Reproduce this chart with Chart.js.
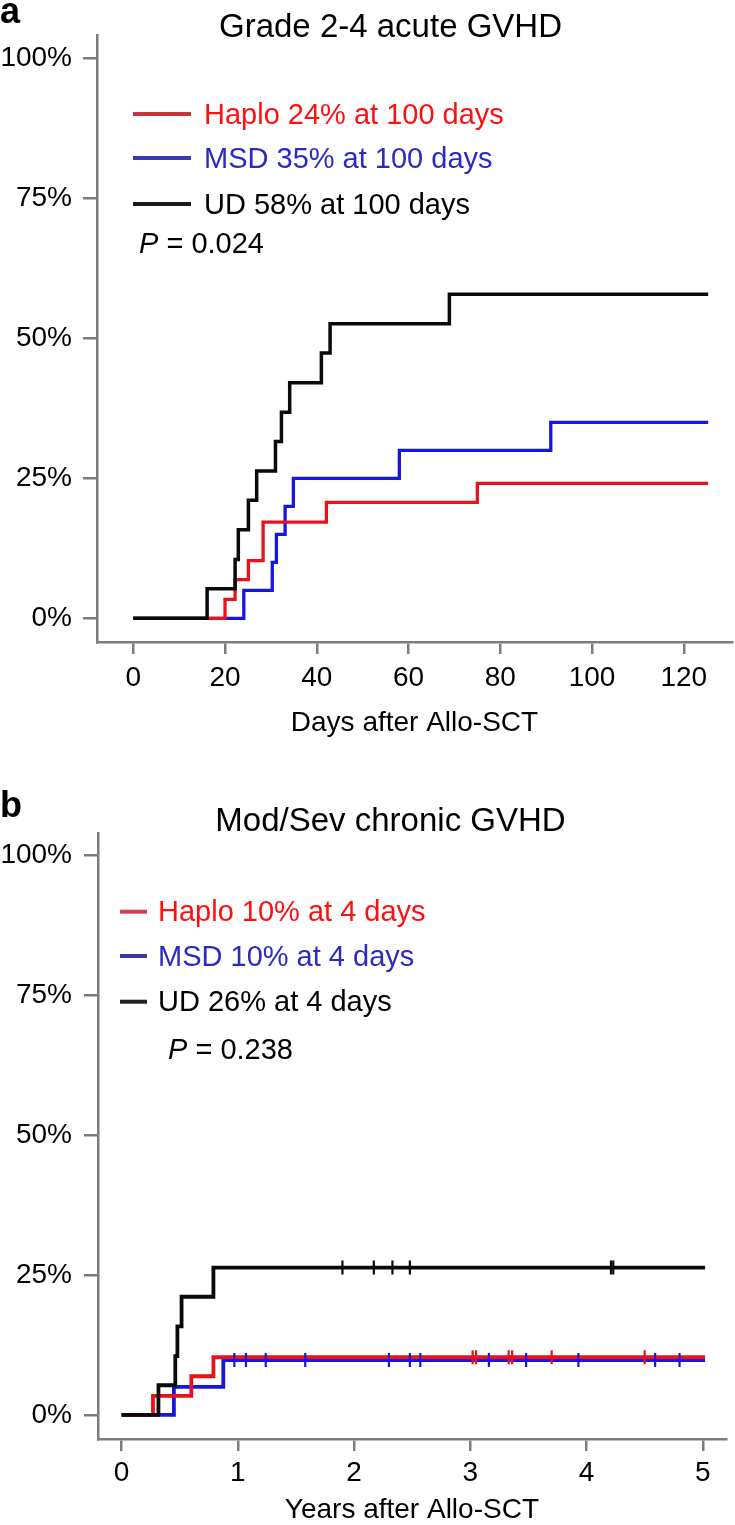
<!DOCTYPE html>
<html><head><meta charset="utf-8">
<script src="https://cdn.jsdelivr.net/npm/chart.js@4.4.1/dist/chart.umd.min.js"></script>
<style>
html,body{margin:0;padding:0;background:#fff;}
#wrapA{position:absolute;left:0;top:0;width:735px;height:760px;}
#wrapB{position:absolute;left:0;top:760px;width:735px;height:765px;}
</style></head><body>
<div id="wrapA"><canvas id="chartA" width="735" height="760"></canvas></div>
<div id="wrapB"><canvas id="chartB" width="735" height="765"></canvas></div>
<script>
// ---------- Panel a: Grade 2-4 acute GVHD (days) ----------
const aXTicks = [0, 20, 40, 60, 80, 100, 120];
const aYTicks = [0, 25, 50, 75, 100];
const aUDDays   = [0, 16.1, 22.2, 22.9, 25.1, 26.9, 31.0, 32.3, 34.1, 41.0, 42.9, 68.9, 125.3];
const aUDCI     = [0, 5.3, 10.5, 15.8, 21.1, 26.3, 31.6, 36.8, 42.1, 47.4, 52.6, 57.9, 57.9];
const aHaploDays = [0, 20.0, 22.2, 25.1, 28.3, 42.1, 75.0, 125.3];
const aHaploCI   = [0, 3.4, 6.9, 10.3, 17.2, 20.7, 24.1, 24.1];
const aMSDDays  = [0, 24.1, 30.3, 31.2, 33.1, 34.9, 58.0, 91.0, 125.3];
const aMSDCI    = [0, 5, 10, 15, 20, 25, 30, 35, 35];
const aLegendLabels = ['Haplo 24% at 100 days', 'MSD 35% at 100 days', 'UD 58% at 100 days'];
const aPValue = '0.024';
const aTitle = 'Grade 2-4 acute GVHD';
const aXTitle = 'Days after Allo-SCT';

// ---------- Panel b: Mod/Sev chronic GVHD (years) ----------
const bXTicks = [0, 1, 2, 3, 4, 5];
const bYTicks = [0, 25, 50, 75, 100];
const bUDYears   = [0, 0.317, 0.462, 0.48, 0.516, 0.79, 5.02];
const bUDCI      = [0, 5.3, 10.5, 15.8, 21.1, 26.3, 26.3];
const bHaploYears = [0, 0.27, 0.60, 0.79, 5.02];
const bHaploCI    = [0, 3.4, 6.9, 10.3, 10.3];
const bMSDYears  = [0, 0.45, 0.875, 5.02];
const bMSDCI     = [0, 5, 9.8, 9.8];
const bUDCensor    = [1.90, 2.17, 2.33, 2.48, 4.21, 4.23];
const bHaploCensor = [3.02, 3.05, 3.33, 3.36, 3.70, 4.50];
const bMSDCensor   = [0.97, 1.07, 1.24, 1.58, 2.30, 2.48, 2.57, 3.16, 3.48, 3.93, 4.59, 4.80];
const bLegendLabels = ['Haplo 10% at 4 days', 'MSD 10% at 4 days', 'UD 26% at 4 days'];
const bPValue = '0.238';
const bTitle = 'Mod/Sev chronic GVHD';
const bXTitle = 'Years after Allo-SCT';

// ---------- styles ----------
const FAM = '"Liberation Sans", Arial, Helvetica, sans-serif';
const AXIS_GRAY = '#7c7c7c';
const C_RED = '#e8121c', C_BLUE = '#1616e0', C_BLACK = '#0a0a0a';

function stepSeries(label, xs, ys, color, w) {
  return {
    label, data: xs.map((x, i) => ({x, y: ys[i]})),
    borderColor: color, backgroundColor: color, borderWidth: w,
    stepped: true, pointRadius: 0, fill: false, tension: 0
  };
}
function censorSeries(label, xs, ys, color) {
  const yv = ys[ys.length - 1];
  return {
    label, data: xs.map(x => ({x, y: yv})),
    showLine: false, pointStyle: 'line', pointRotation: 90, pointRadius: 7,
    pointBorderColor: color, pointBorderWidth: 2.2, borderColor: color, backgroundColor: color
  };
}

const decor = {
  id: 'decor',
  afterDraw(chart, args, o) {
    const ctx = chart.ctx;
    ctx.save();
    ctx.textBaseline = 'alphabetic';
    ctx.fillStyle = '#000';
    ctx.textAlign = 'left';
    ctx.font = 'bold 36px ' + FAM;
    ctx.fillText(o.letter, o.letterX, o.letterY);
    ctx.textAlign = 'center';
    ctx.font = '33px ' + FAM;
    ctx.fillText(o.title, o.titleX, o.titleY);
    ctx.textAlign = 'left';
    o.labels.forEach((lab, i) => {
      const y = o.legendY[i];
      ctx.strokeStyle = o.lineColors[i];
      ctx.lineWidth = 4;
      ctx.beginPath(); ctx.moveTo(o.lineX0, y); ctx.lineTo(o.lineX1, y); ctx.stroke();
      ctx.fillStyle = o.textColors[i];
      ctx.font = '29px ' + FAM;
      ctx.fillText(lab, o.textX, y + 9.5);
    });
    ctx.fillStyle = '#000';
    ctx.font = 'italic 29px ' + FAM;
    ctx.fillText('P', o.pX, o.pY);
    const w = ctx.measureText('P').width;
    ctx.font = '29px ' + FAM;
    ctx.fillText(' = ' + o.pValue, o.pX + w, o.pY);
    ctx.restore();
  }
};

function makeScales(p) {
  return {
    x: {
      type: 'linear', min: p.xmin, max: p.xmax,
      afterBuildTicks: ax => { ax.ticks = p.xticks.map(v => ({value: v})); },
      afterFit: s => { s.height = p.xh; },
      border: {display: true, color: AXIS_GRAY, width: 2.5},
      grid: {display: true, drawOnChartArea: false, drawTicks: true, tickLength: 12, color: AXIS_GRAY, lineWidth: 2.5},
      ticks: {color: '#000', font: {family: FAM, size: 28, lineHeight: 1}, padding: p.xpad, maxRotation: 0, autoSkip: false},
      title: {display: true, text: p.xtitle, color: '#000', font: {family: FAM, size: 28, lineHeight: 1}, padding: {top: 0, bottom: p.xtpad}}
    },
    y: {
      type: 'linear', min: p.ymin, max: p.ymax,
      afterBuildTicks: ax => { ax.ticks = p.yticks.map(v => ({value: v})); },
      afterFit: s => { s.width = p.yw; },
      border: {display: true, color: AXIS_GRAY, width: 2.5},
      grid: {display: true, drawOnChartArea: false, drawTicks: true, tickLength: 14, color: AXIS_GRAY, lineWidth: 2.5},
      ticks: {color: '#000', font: {family: FAM, size: 28, lineHeight: 1}, padding: p.ypad, autoSkip: false,
              callback: v => v + '%'}
    }
  };
}

new Chart(document.getElementById('chartA'), {
  type: 'line',
  data: {datasets: [
    stepSeries('UD', aUDDays, aUDCI, C_BLACK, 3.5),
    stepSeries('Haplo', aHaploDays, aHaploCI, C_RED, 3.3),
    stepSeries('MSD', aMSDDays, aMSDCI, C_BLUE, 3.3)
  ]},
  options: {
    responsive: false, animation: false, devicePixelRatio: 1,
    layout: {padding: {left: 0, right: 3, top: 35, bottom: 0}},
    plugins: {
      legend: {display: false}, tooltip: {enabled: false},
      decor: {
        letter: 'a', letterX: 0, letterY: 23,
        title: aTitle, titleX: 390.5, titleY: 37,
        labels: aLegendLabels, legendY: [114, 158, 204],
        lineColors: ['#c8323c', '#3a3ab8', '#1a1a1a'],
        textColors: ['#ff1010', '#2a2ac4', '#000'],
        lineX0: 133, lineX1: 191, textX: 204,
        pX: 139, pY: 253, pValue: aPValue
      }
    },
    scales: makeScales({xmin: -7.9, xmax: 130.5, ymin: -4.23, ymax: 104.2, xticks: aXTicks, yticks: aYTicks,
      xh: 118, yw: 97, xpad: 10, ypad: 11, xtpad: 23, xtitle: aXTitle})
  },
  plugins: [decor]
});

new Chart(document.getElementById('chartB'), {
  type: 'line',
  data: {datasets: [
    censorSeries('UD censored', bUDCensor, bUDCI, C_BLACK),
    censorSeries('Haplo censored', bHaploCensor, bHaploCI, C_RED),
    censorSeries('MSD censored', bMSDCensor, bMSDCI, C_BLUE),
    stepSeries('UD', bUDYears, bUDCI, C_BLACK, 3.8),
    stepSeries('Haplo', bHaploYears, bHaploCI, C_RED, 3.8),
    stepSeries('MSD', bMSDYears, bMSDCI, C_BLUE, 3.8)
  ]},
  options: {
    responsive: false, animation: false, devicePixelRatio: 1,
    layout: {padding: {left: 0, right: 4, top: 73, bottom: 0}},
    plugins: {
      legend: {display: false}, tooltip: {enabled: false},
      decor: {
        letter: 'b', letterX: 0, letterY: 57,
        title: bTitle, titleX: 390.5, titleY: 71,
        labels: bLegendLabels, legendY: [151.7, 196, 241.7],
        lineColors: ['#d04050', '#3838a8', '#222222'],
        textColors: ['#ff1010', '#2a2ac4', '#000'],
        lineX0: 120, lineX1: 147, textX: 158,
        pX: 168, pY: 299, pValue: bPValue
      }
    },
    scales: makeScales({xmin: -0.203, xmax: 5.198, ymin: -4.3, ymax: 103.9, xticks: bXTicks, yticks: bYTicks,
      xh: 86, yw: 98, xpad: 8, ypad: 12, xtpad: 1, xtitle: bXTitle})
  },
  plugins: [decor]
});
</script>
</body></html>
